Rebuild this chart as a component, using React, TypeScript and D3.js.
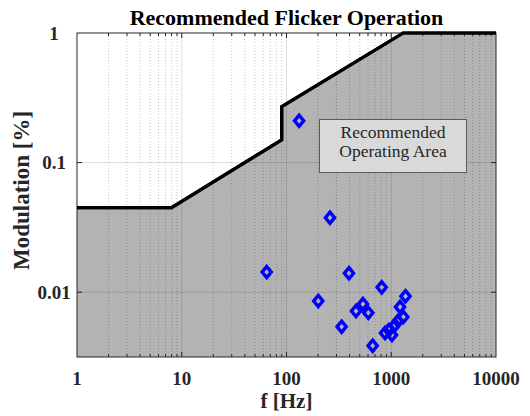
import React from "react";
import * as d3 from "d3";

// Axis extents
const freqDomain: [number, number] = [1, 10000];
const modDomain: [number, number] = [Math.pow(10, -2.5), 1];

// Boundary of the recommended operating region
const boundaryFreq = [1, 8, 90, 90, 1300, 10000];
const boundaryMod = [0.045, 0.045, 0.15, 0.27, 1, 1];

// Measured lamp samples
const sampleFreq = [132, 64.7, 260, 395, 811, 1368, 1213, 201, 461, 537, 604, 1303, 336, 665, 872, 952, 1016, 1086, 1159];
const sampleMod = [0.21, 0.0143, 0.0376, 0.014, 0.0109, 0.0093, 0.0077, 0.00855, 0.00716, 0.0081, 0.00693, 0.00644, 0.00542, 0.00386, 0.00484, 0.0051, 0.00468, 0.00558, 0.006];

// Tick labels
const xTickValues = [1, 10, 100, 1000, 10000];
const xTickLabels = ["1", "10", "100", "1000", "10000"];
const yTickValues = [1, 0.1, 0.01];
const yTickLabels = ["1", "0.1", "0.01"];

const titleText = "Recommended Flicker Operation";
const xLabel = "f [Hz]";
const yLabel = "Modulation [%]";
const areaLabel = ["Recommended", "Operating Area"];

const W = 530;
const H = 416;
const plot = { left: 77, right: 496, top: 33, bottom: 357 };
const serif = "Liberation Serif";

export default function App() {
  const x = d3.scaleLog().domain(freqDomain).range([plot.left, plot.right]);
  const y = d3.scaleLog().domain(modDomain).range([plot.bottom, plot.top]);

  const pts: [number, number][] = boundaryFreq.map((f, i) => [f, boundaryMod[i]]);
  const area = d3
    .area<[number, number]>()
    .x((d) => x(d[0]))
    .y0(plot.bottom)
    .y1((d) => y(d[1]));
  const line = d3
    .line<[number, number]>()
    .x((d) => x(d[0]))
    .y((d) => y(d[1]));

  // minor log ticks on the frequency axis
  const minorX: number[] = [];
  for (let dec = 1; dec < 10000; dec *= 10) {
    for (let k = 2; k <= 9; k++) minorX.push(dec * k);
  }
  const majorXGrid = [10, 100, 1000];
  const majorYGrid = [0.1, 0.01];

  const diamond = (cx: number, cy: number) =>
    `M${cx},${cy - 5.6}L${cx + 4.6},${cy}L${cx},${cy + 5.6}L${cx - 4.6},${cy}Z`;

  const boxX0 = 319.5;
  const boxX1 = 466.5;
  const boxY0 = 119.5;
  const boxY1 = 172.5;

  const txt = { fontFamily: serif };

  return (
    <svg
      width={W}
      height={H}
      style={{ position: "absolute", left: 0, top: 0, background: "#fff", fontFamily: serif }}
    >
      <rect x={plot.left} y={plot.top} width={plot.right - plot.left} height={plot.bottom - plot.top} fill="#fff" />
      <path d={area(pts) || ""} fill="#b3b3b3" />

      {/* grid */}
      <g>
        {minorX.map((f) => (
          <line
            key={"mx" + f}
            x1={x(f)}
            x2={x(f)}
            y1={plot.top}
            y2={plot.bottom}
            stroke="#000"
            strokeOpacity={0.22}
            strokeDasharray="1,2"
          />
        ))}
        {majorXGrid.map((f) => (
          <line key={"gx" + f} x1={x(f)} x2={x(f)} y1={plot.top} y2={plot.bottom} stroke="#000" strokeOpacity={0.13} />
        ))}
        {majorYGrid.map((m) => (
          <line key={"gy" + m} x1={plot.left} x2={plot.right} y1={y(m)} y2={y(m)} stroke="#000" strokeOpacity={0.13} />
        ))}
      </g>

      {/* ticks */}
      <g stroke="#262626" strokeWidth={1}>
        {xTickValues.slice(1, -1).map((f) => (
          <g key={"tx" + f}>
            <line x1={x(f)} x2={x(f)} y1={plot.bottom} y2={plot.bottom - 5} />
            <line x1={x(f)} x2={x(f)} y1={plot.top} y2={plot.top + 5} />
          </g>
        ))}
        {minorX.map((f) => (
          <g key={"tmx" + f}>
            <line x1={x(f)} x2={x(f)} y1={plot.bottom} y2={plot.bottom - 3} />
            <line x1={x(f)} x2={x(f)} y1={plot.top} y2={plot.top + 3} />
          </g>
        ))}
        {majorYGrid.map((m) => (
          <g key={"ty" + m}>
            <line x1={plot.left} x2={plot.left + 5} y1={y(m)} y2={y(m)} />
            <line x1={plot.right} x2={plot.right - 5} y1={y(m)} y2={y(m)} />
          </g>
        ))}
      </g>

      <path d={line(pts) || ""} fill="none" stroke="#000" strokeWidth={3.2} strokeLinejoin="miter" />

      {/* samples */}
      <g fill="none" stroke="#0000ff" strokeWidth={3.4}>
        {sampleFreq.map((f, i) => (
          <path key={"s" + i} d={diamond(x(f), y(sampleMod[i]))} strokeLinejoin="miter" />
        ))}
      </g>

      {/* region label */}
      <rect x={boxX0} y={boxY0} width={boxX1 - boxX0} height={boxY1 - boxY0} fill="#d9d9d9" stroke="#5a5a5a" strokeWidth={1} />
      <text x={(boxX0 + boxX1) / 2} y={138} textAnchor="middle" fontSize={17.5} fill="#262626" style={txt}>
        {areaLabel[0]}
      </text>
      <text x={(boxX0 + boxX1) / 2} y={157} textAnchor="middle" fontSize={17.5} fill="#262626" style={txt}>
        {areaLabel[1]}
      </text>

      {/* frame */}
      <rect
        x={plot.left}
        y={plot.top}
        width={plot.right - plot.left}
        height={plot.bottom - plot.top}
        fill="none"
        stroke="#262626"
        strokeWidth={1}
      />
      <path d={line(pts) || ""} fill="none" stroke="#000" strokeWidth={3.2} />

      {/* axis labels */}
      <g fontWeight="bold" fontSize={19} fill="#262626">
        {xTickValues.map((f, i) => (
          <text key={"lx" + f} x={x(f)} y={385} textAnchor="middle" style={txt}>
            {xTickLabels[i]}
          </text>
        ))}
        {yTickValues.map((m, i) => (
          <text key={"ly" + m} x={54} y={y(m) + 6.5} textAnchor="middle" style={txt}>
            {yTickLabels[i]}
          </text>
        ))}
        <text x={(plot.left + plot.right) / 2} y={408} textAnchor="middle" fontSize={21} style={txt}>
          {xLabel}
        </text>
        <text
          transform={`translate(29,190.5) rotate(-90)`}
          textAnchor="middle"
          fontSize={23}
          style={txt}
        >
          {yLabel}
        </text>
      </g>
      <text x={(plot.left + plot.right) / 2} y={25} textAnchor="middle" fontWeight="bold" fontSize={22} fill="#000" style={txt}>
        {titleText}
      </text>
    </svg>
  );
}
